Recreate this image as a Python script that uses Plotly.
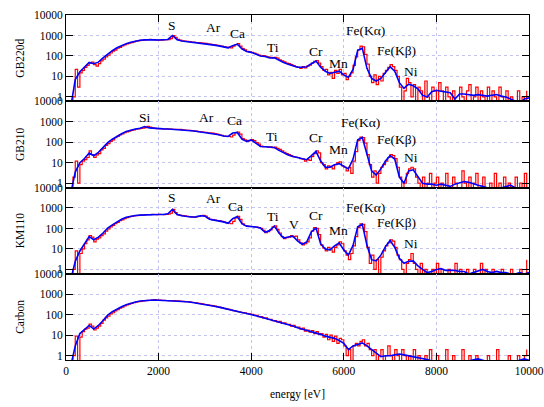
import plotly.graph_objects as go
from plotly.subplots import make_subplots

# ---------------- data ----------------
panel_names = ["GB220d", "GB210", "KM110", "Carbon"]

# smoothed spectra (blue), 100 eV steps from 100 to 10000 eV
blue_energy = list(range(100, 10001, 100))
# raw spectra (red), 50 eV bins starting at 0 eV
red_energy = list(range(0, 10000, 50))

blue_gb220d = [
    0.3, 7, 17, 28, 48, 42, 50, 80, 125, 180,
    250, 320, 400, 470, 540, 590, 610, 630, 620, 600,
    610, 640, 1000, 620, 540, 510, 470, 450, 430, 410,
    370, 340, 310, 280, 250, 320, 380, 220, 165, 150,
    120, 100, 95, 80, 82, 60, 48, 40, 33, 28,
    28, 30, 42, 57, 28, 18, 14, 16, 18, 12,
    9, 22, 190, 240, 25, 8, 6, 8, 15, 30,
    18, 5, 2.6, 4.2, 3.5, 2.5, 1.2, 1.0, 1.8, 2.1,
    1.9, 1.7, 1.6, 0.8, 1.4, 1.4, 1.3, 1.2, 1.3, 1.2,
    1.1, 1.2, 1.3, 1.1, 1.0, 0.8, 0.6, 0.5, 0.8, 0.9,
]
red_gb220d = [
    0, 0, 0, 1, 22, 3, 15, 20, 28, 35,
    45, 50, 38, 32, 42, 58, 70, 90, 110, 140,
    170, 195, 240, 265, 310, 350, 390, 420, 450, 490,
    530, 550, 580, 600, 610, 620, 640, 630, 615, 600,
    590, 600, 605, 620, 630, 700, 980, 800, 640, 600,
    550, 530, 520, 500, 480, 470, 455, 445, 435, 420,
    410, 395, 380, 360, 345, 330, 315, 300, 285, 270,
    255, 250, 300, 360, 400, 300, 230, 200, 170, 160,
    150, 140, 125, 110, 100, 105, 95, 90, 85, 80,
    85, 78, 65, 58, 52, 45, 42, 38, 34, 30,
    28, 25, 30, 26, 32, 36, 45, 55, 60, 45,
    30, 20, 22, 12, 16, 8, 20, 14, 22, 12,
    14, 7, 10, 15, 35, 90, 200, 300, 280, 120,
    40, 10, 5, 12, 4, 10, 6, 14, 20, 28,
    38, 30, 20, 10, 3, 0, 2, 8, 5, 1,
    4, 0, 3, 2, 0, 6, 1, 0, 3, 2,
    0, 5, 2, 0, 3, 1, 0, 2, 0, 0,
    3, 1, 0, 2, 4, 0, 1, 3, 0, 2,
    1, 0, 3, 0, 2, 1, 0, 3, 1, 0,
    2, 0, 1, 0, 0, 2, 0, 1, 0, 2,
]

blue_gb210 = [
    0.3, 3.5, 10, 16, 30, 22, 32, 55, 95, 140,
    200, 260, 330, 390, 440, 480, 580, 500, 470, 460,
    450, 440, 430, 425, 400, 380, 365, 345, 320, 300,
    285, 260, 230, 200, 190, 280, 300, 140, 110, 130,
    90, 62, 60, 58, 55, 40, 30, 24, 20, 18,
    15, 14, 22, 36, 12, 6, 6, 8, 9, 7,
    5, 15, 130, 170, 25, 4, 2.5, 5, 12, 22,
    15, 2, 1, 4, 4.5, 2, 1.0, 0.9, 0.9, 0.8,
    0.9, 0.8, 0.7, 0.9, 1.0, 1.2, 1.1, 0.9, 0.8, 0.7,
    0.6, 0.5, 0.5, 0.6, 0.7, 0.8, 0.6, 0.5, 0.5, 0.5,
]
red_gb210 = [
    0, 0, 0, 2, 12, 1, 8, 12, 14, 18,
    38, 25, 18, 24, 28, 42, 50, 70, 85, 110,
    130, 165, 195, 230, 255, 290, 320, 345, 380, 405,
    430, 450, 470, 490, 520, 600, 540, 500, 470, 465,
    460, 455, 450, 445, 440, 435, 430, 425, 430, 420,
    405, 395, 380, 375, 365, 355, 345, 330, 320, 310,
    300, 290, 285, 275, 260, 250, 230, 215, 200, 195,
    190, 180, 220, 290, 310, 250, 150, 130, 110, 120,
    135, 120, 95, 80, 65, 60, 62, 58, 60, 55,
    58, 50, 45, 38, 32, 28, 25, 22, 20, 19,
    18, 16, 15, 12, 14, 13, 20, 28, 38, 30,
    10, 8, 5, 7, 6, 5, 8, 10, 11, 7,
    6, 4, 6, 3, 12, 35, 120, 180, 170, 90,
    25, 8, 2, 4, 1, 3, 6, 8, 12, 18,
    25, 22, 16, 6, 2, 0, 1, 3, 5, 6,
    5, 2, 1, 0, 2, 0, 1, 3, 0, 1,
    2, 0, 1, 0, 3, 0, 0, 2, 1, 0,
    0, 4, 1, 0, 2, 0, 1, 3, 0, 0,
    2, 0, 0, 1, 0, 3, 0, 1, 0, 2,
    0, 1, 0, 0, 2, 0, 1, 0, 3, 0,
]

blue_km110 = [
    0.3, 2.5, 8, 18, 40, 28, 38, 60, 105, 150,
    215, 280, 350, 400, 430, 450, 465, 475, 480, 480,
    480, 520, 850, 480, 420, 390, 365, 370, 420, 400,
    280, 255, 240, 210, 180, 300, 380, 170, 130, 125,
    118, 105, 65, 80, 130, 60, 34, 38, 42, 25,
    17, 22, 70, 105, 18, 10, 9, 14, 20, 9,
    5, 15, 120, 160, 15, 3, 2.6, 5, 13, 26,
    12, 3.5, 2, 2.5, 2.6, 1.5, 1.0, 0.7, 0.8, 1.0,
    1.1, 0.9, 0.9, 0.9, 0.8, 0.8, 0.6, 0.7, 0.8, 1.0,
    0.8, 0.7, 0.8, 0.7, 0.7, 0.6, 0.6, 0.7, 0.6, 0.7,
]
red_km110 = [
    0, 0, 0, 1, 8, 0, 6, 10, 18, 28,
    45, 38, 22, 30, 35, 45, 55, 75, 95, 120,
    140, 170, 200, 240, 265, 300, 340, 370, 390, 410,
    425, 435, 445, 455, 470, 480, 475, 485, 480, 470,
    485, 480, 475, 490, 500, 560, 860, 600, 470, 450,
    420, 410, 395, 380, 365, 360, 370, 385, 430, 440,
    400, 330, 280, 265, 255, 245, 240, 225, 210, 195,
    180, 170, 220, 330, 390, 280, 170, 140, 130, 125,
    125, 120, 118, 110, 100, 80, 62, 70, 85, 120,
    135, 90, 60, 40, 32, 36, 38, 45, 40, 42,
    28, 20, 16, 18, 22, 35, 75, 110, 100, 50,
    16, 11, 8, 12, 9, 7, 12, 16, 22, 18,
    8, 5, 3, 6, 14, 40, 110, 170, 160, 70,
    12, 2, 5, 1, 3, 0, 4, 8, 14, 20,
    28, 24, 12, 5, 3, 1, 0, 2, 3, 6,
    2, 1, 0, 2, 0, 1, 0, 0, 1, 0,
    2, 0, 1, 0, 0, 1, 0, 0, 2, 0,
    1, 0, 0, 1, 0, 0, 1, 0, 0, 2,
    0, 1, 0, 0, 1, 0, 0, 0, 1, 0,
    0, 0, 1, 0, 0, 0, 1, 0, 0, 3,
]

blue_carbon = [
    0.3, 3, 12, 18, 30, 20, 30, 52, 95, 140,
    190, 245, 310, 370, 420, 465, 495, 520, 525, 510,
    500, 495, 485, 470, 450, 430, 405, 375, 345, 315,
    290, 260, 235, 205, 185, 160, 140, 128, 115, 105,
    90, 78, 68, 58, 50, 45, 38, 33, 28, 23,
    20, 17, 15, 13, 11, 9, 8, 7, 5.5, 4,
    2, 3, 3.5, 4.2, 3, 2, 1.4, 0.9, 1.0, 1.0,
    1.1, 1.2, 1.1, 1.0, 0.9, 0.8, 0.7, 0.65, 0.55, 0.5,
    0.45, 0.4, 0.4, 0.4, 0.45, 0.5, 0.55, 0.6, 0.7, 0.6,
    0.5, 0.45, 0.4, 0.4, 0.4, 0.45, 0.5, 0.6, 0.7, 0.6,
]
red_carbon = [
    0, 0, 0, 1, 9, 0, 8, 15, 20, 22,
    35, 28, 18, 22, 28, 38, 55, 70, 85, 110,
    125, 155, 175, 210, 235, 270, 300, 330, 360, 385,
    410, 430, 450, 470, 485, 500, 510, 530, 540, 520,
    515, 505, 500, 495, 490, 480, 485, 475, 470, 460,
    450, 440, 430, 420, 405, 395, 375, 360, 345, 330,
    315, 300, 290, 275, 260, 245, 235, 220, 205, 195,
    185, 170, 160, 150, 140, 135, 128, 122, 115, 110,
    105, 95, 92, 80, 82, 70, 70, 60, 60, 52,
    52, 45, 47, 38, 40, 34, 34, 28, 30, 24,
    25, 20, 22, 16, 18, 14, 17, 12, 15, 11,
    12, 8, 11, 6, 10, 5, 9, 4, 7, 6,
    3, 1, 2, 0, 3, 4, 3, 5, 6, 3,
    4, 2, 1, 2, 0, 1, 2, 0, 1, 3,
    1, 0, 2, 1, 0, 2, 1, 0, 1, 0,
    2, 0, 1, 0, 0, 1, 0, 2, 0, 0,
    1, 0, 0, 0, 2, 0, 0, 1, 0, 0,
    0, 2, 0, 0, 1, 0, 0, 1, 0, 0,
    0, 0, 1, 0, 0, 0, 2, 0, 0, 0,
    0, 1, 0, 0, 0, 1, 0, 0, 1, 2,
]

blue_series = [blue_gb220d, blue_gb210, blue_km110, blue_carbon]
red_series = [red_gb220d, red_gb210, red_km110, red_carbon]

# element labels: (text, energy [eV], log10 height)
labels = [
    [("S", 2300, 3.47), ("Ar", 3190, 3.41), ("Ca", 3700, 3.12), ("Ti", 4460, 2.43),
     ("Cr", 5390, 2.2), ("Mn", 5880, 1.65), ("Fe(Kα)", 6465, 3.26),
     ("Fe(Kβ)", 7130, 2.25), ("Ni", 7460, 1.25)],
    [("Si", 1700, 3.2), ("Ar", 3030, 3.2), ("Ca", 3640, 3.05), ("Ti", 4440, 2.3),
     ("Cr", 5390, 2.22), ("Mn", 5880, 1.65), ("Fe(Kα)", 6360, 2.95),
     ("Fe(Kβ)", 7130, 2.13), ("Ni", 7460, 1.27)],
    [("S", 2300, 3.5), ("Ar", 3190, 3.45), ("Ca", 3655, 3.05), ("Ti", 4470, 2.6),
     ("V", 4935, 2.19), ("Cr", 5390, 2.63), ("Mn", 5880, 1.91), ("Fe(Kα)", 6465, 3.0),
     ("Fe(Kβ)", 7130, 2.27), ("Ni", 7460, 1.29)],
    [],
]

x_ticks = [0, 2000, 4000, 6000, 8000, 10000]
x_ticktext = ["0", "2000", "4000", "6000", "8000", "10000"]
y_ticks = [1, 10, 100, 1000, 10000]
y_ticktext = ["1", "10", "100", "1000", "10000"]

FLOOR = 0.05  # zero counts drawn below the visible range
FONT = "Liberation Serif, Times New Roman, serif"
GRID = "#c4c4f2"

fig = make_subplots(rows=4, cols=1, shared_xaxes=True, vertical_spacing=0)

for i in range(4):
    r = i + 1
    fig.add_trace(go.Scatter(
        x=red_energy, y=[v if v > 0 else FLOOR for v in red_series[i]],
        mode="lines", line=dict(color="#ff0000", width=1.2, shape="hv"),
        showlegend=False, hoverinfo="skip"), row=r, col=1)
    fig.add_trace(go.Scatter(
        x=blue_energy, y=blue_series[i],
        mode="lines", line=dict(color="#0000ff", width=1.6),
        showlegend=False, hoverinfo="skip"), row=r, col=1)

    fig.update_yaxes(
        type="log", range=[-0.21, 4], tickvals=y_ticks, ticktext=y_ticktext,
        ticks="inside", ticklen=7, tickcolor="black", mirror="ticks",
        showline=True, linecolor="black", linewidth=1, automargin=False,
        showgrid=True, gridcolor=GRID, griddash="dot", gridwidth=1,
        tickfont=dict(family=FONT, size=11.5, color="black"),
        title=dict(text=panel_names[i], font=dict(family=FONT, size=11.5, color="black"),
                   standoff=6),
        zeroline=False, row=r, col=1)

    xa = dict(range=[0, 10000], tickvals=x_ticks, ticktext=x_ticktext,
              showline=True, linecolor="black",
              linewidth=1, mirror=True, showgrid=True, gridcolor=GRID,
              griddash="dot", gridwidth=1, zeroline=False, automargin=False,
              tickfont=dict(family=FONT, size=11.5, color="black"))
    if r == 1:
        xa.update(side="top", ticks="inside", ticklen=7, tickcolor="black",
                  showticklabels=False)
    elif r == 4:
        xa.update(ticks="inside", ticklen=7, tickcolor="black", showticklabels=True,
                  title=dict(text="energy [eV]",
                             font=dict(family=FONT, size=11.5, color="black"),
                             standoff=14))
    else:
        xa.update(ticks="", showticklabels=False)
    fig.update_xaxes(**xa, row=r, col=1)

    for (txt, ex, ly) in labels[i]:
        fig.add_annotation(x=ex, y=ly, xref=f"x{r if r > 1 else ''}",
                           yref=f"y{r if r > 1 else ''}", text=txt, showarrow=False,
                           font=dict(family=FONT, size=13.5, color="black"))

fig.update_layout(
    width=544, height=407,
    margin=dict(l=66, r=15, t=15, b=47),
    paper_bgcolor="white", plot_bgcolor="white",
    font=dict(family=FONT, size=11.5, color="black"),
)

fig.write_html("out.html", config={"displayModeBar": False},
               post_script="document.body.style.margin='0';"
                           "document.body.style.overflow='hidden';")
